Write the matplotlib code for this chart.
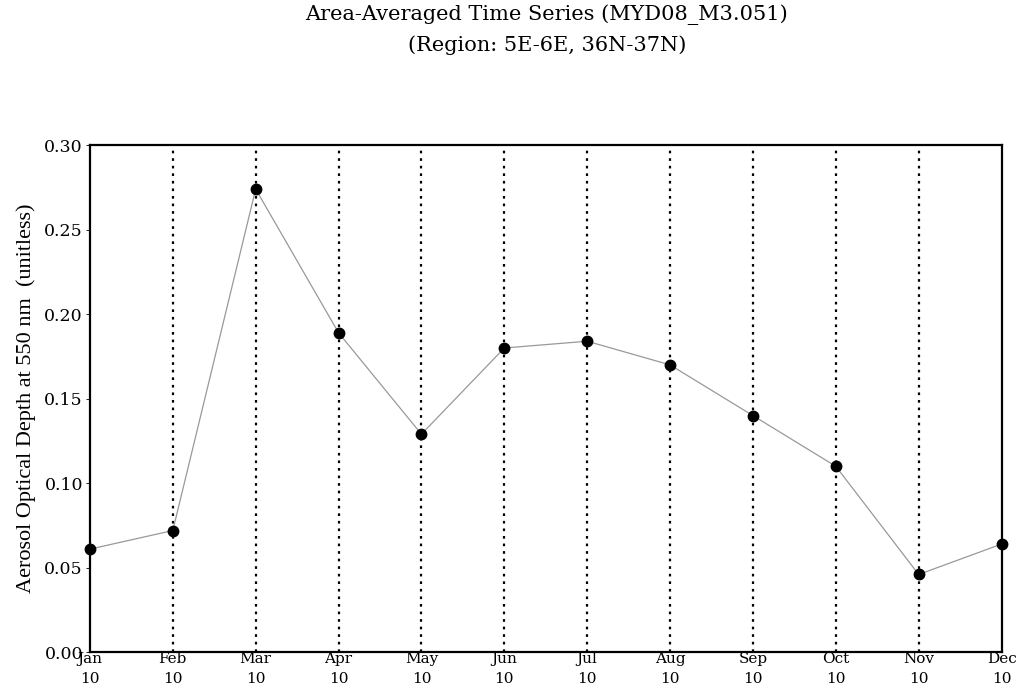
import matplotlib
matplotlib.use("Agg")
import matplotlib.pyplot as plt

# monthly aerosol optical depth values
months = ['Jan', 'Feb', 'Mar', 'Apr', 'May', 'Jun', 'Jul', 'Aug', 'Sep', 'Oct', 'Nov', 'Dec']
year_labels = ['10'] * 12
aod = [0.061, 0.072, 0.274, 0.189, 0.129, 0.180, 0.184, 0.170, 0.140, 0.110, 0.046, 0.064]
y_ticks = [0.00, 0.05, 0.10, 0.15, 0.20, 0.25, 0.30]

plt.rcParams['font.family'] = ['DejaVu Serif']

fig = plt.figure(figsize=(10.22, 6.88), dpi=100)
ax = fig.add_axes([0.088, 0.052, 0.892, 0.737])

x = list(range(len(months)))
ax.plot(x, aod, color='#999999', linewidth=0.9, zorder=2)
ax.plot(x, aod, 'o', color='black', markersize=7.5, zorder=3, clip_on=False)

for xi in x[1:-1]:
    ax.axvline(xi, color='black', linestyle=(0, (1.2, 2.2)), linewidth=1.6, zorder=1)

ax.set_xlim(0, len(months) - 1)
ax.set_ylim(0, 0.30)
ax.set_yticks(y_ticks)
ax.set_yticklabels(['%.2f' % v for v in y_ticks], fontsize=12.5)
ax.set_xticks(x)
ax.set_xticklabels([m + '\n' + yl for m, yl in zip(months, year_labels)], fontsize=11, linespacing=1.55)
ax.tick_params(axis='y', length=3, width=0.6, pad=2)
ax.tick_params(axis='x', length=0, pad=0)
ax.set_ylabel('Aerosol Optical Depth at 550 nm  (unitless)', fontsize=16, family='Liberation Serif', labelpad=6)

for s in ax.spines.values():
    s.set_linewidth(1.6)

fig.text(0.535, 0.978, 'Area-Averaged Time Series (MYD08_M3.051)', ha='center', va='center', fontsize=15)
fig.text(0.535, 0.935, '(Region: 5E-6E, 36N-37N)', ha='center', va='center', fontsize=15)

fig.savefig('out.png', dpi=100)
